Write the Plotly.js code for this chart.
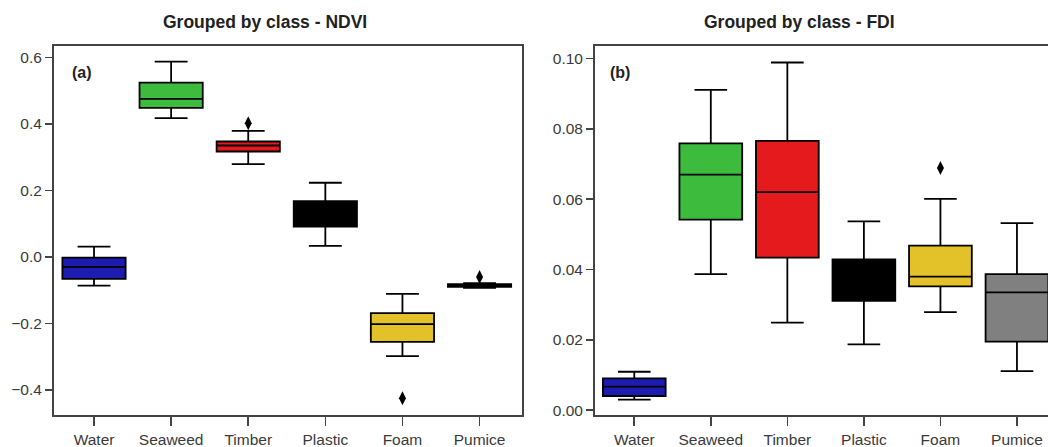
<!DOCTYPE html>
<html>
<head>
<meta charset="utf-8">
<script src="https://cdn.plot.ly/plotly-3.0.1.min.js"></script>
<style>
html, body { margin:0; padding:0; overflow:hidden; background:#fff; }
#chart { width:1060px; height:447px; }
</style>
</head>
<body>
<div id="chart"></div>
<script>
// ---- data ----
const classes = ['Water', 'Seaweed', 'Timber', 'Plastic', 'Foam', 'Pumice'];
const classColors = ['#1c1cb0', '#3dbb3d', '#e41a1c', '#000000', '#e3c229', '#808080'];

// NDVI (panel a)
const ndviLower  = [-0.086, 0.417, 0.279, 0.033, -0.298, -0.093];
const ndviQ1     = [-0.066, 0.448, 0.317, 0.091, -0.255, -0.090];
const ndviMedian = [-0.030, 0.475, 0.335, 0.130, -0.202, -0.086];
const ndviQ3     = [-0.002, 0.524, 0.347, 0.168, -0.169, -0.082];
const ndviUpper  = [0.031, 0.587, 0.379, 0.223, -0.111, -0.079];
const ndviOutlierClass = ['Timber', 'Foam', 'Pumice'];
const ndviOutlierValue = [0.402, -0.425, -0.060];

// FDI (panel b)
const fdiLower  = [0.0030, 0.0387, 0.0249, 0.0187, 0.0279, 0.0111];
const fdiQ1     = [0.0040, 0.0542, 0.0434, 0.0311, 0.0352, 0.0195];
const fdiMedian = [0.0067, 0.0670, 0.0620, 0.0370, 0.0380, 0.0335];
const fdiQ3     = [0.0090, 0.0759, 0.0766, 0.0429, 0.0468, 0.0387];
const fdiUpper  = [0.0109, 0.0911, 0.0989, 0.0537, 0.0601, 0.0532];
const fdiOutlierClass = ['Foam'];
const fdiOutlierValue = [0.0689];

const ndviTicks = [-0.4, -0.2, 0.0, 0.2, 0.4, 0.6];
const fdiTicks = [0.00, 0.02, 0.04, 0.06, 0.08, 0.10];

// ---- traces ----
const traces = [];
function addBoxes(lower, q1, med, q3, upper, xa, ya) {
  classes.forEach((c, i) => {
    traces.push({
      type: 'box', x: [c], q1: [q1[i]], median: [med[i]], q3: [q3[i]],
      lowerfence: [lower[i]], upperfence: [upper[i]],
      xaxis: xa, yaxis: ya, width: 0.82, whiskerwidth: 0.52,
      fillcolor: classColors[i], line: { color: '#000', width: 1.8 },
      boxpoints: false, showlegend: false, hoverinfo: 'skip'
    });
  });
}
addBoxes(ndviLower, ndviQ1, ndviMedian, ndviQ3, ndviUpper, 'x', 'y');
addBoxes(fdiLower, fdiQ1, fdiMedian, fdiQ3, fdiUpper, 'x2', 'y2');

traces.push({
  type: 'scatter', mode: 'markers', x: ndviOutlierClass, y: ndviOutlierValue,
  xaxis: 'x', yaxis: 'y', marker: { symbol: 'diamond-tall', size: 10, color: '#000' },
  showlegend: false, hoverinfo: 'skip'
});
traces.push({
  type: 'scatter', mode: 'markers', x: fdiOutlierClass, y: fdiOutlierValue,
  xaxis: 'x2', yaxis: 'y2', marker: { symbol: 'diamond-tall', size: 10, color: '#000' },
  showlegend: false, hoverinfo: 'skip'
});

// ---- layout ----
const axisFont = { family: 'Liberation Sans, Arial, sans-serif', size: 15.5, color: '#3a3a3a' };
const frame = { showline: true, mirror: true, linecolor: '#444', linewidth: 2,
  showgrid: false, zeroline: false, ticks: 'outside', tickcolor: '#444',
  tickwidth: 1.6, tickfont: axisFont, fixedrange: true };

const layout = {
  width: 1060, height: 447,
  margin: { l: 54, r: 4, t: 46, b: 32 },
  paper_bgcolor: '#fff', plot_bgcolor: '#fff',
  showlegend: false,
  font: { family: 'Liberation Sans, Arial, sans-serif' },
  xaxis: Object.assign({}, frame, { domain: [0, 0.4668], type: 'category',
    categoryorder: 'array', categoryarray: classes, range: [-0.519, 5.547], ticklen: 9 }),
  yaxis: Object.assign({}, frame, { anchor: 'x', range: [-0.475, 0.634],
    tickvals: ndviTicks, tickformat: '.1f', ticklen: 7 }),
  xaxis2: Object.assign({}, frame, { domain: [0.540, 1], anchor: 'y2', type: 'category',
    categoryorder: 'array', categoryarray: classes, range: [-0.512, 5.51], ticklen: 9 }),
  yaxis2: Object.assign({}, frame, { anchor: 'x2', range: [-0.0014, 0.1036],
    tickvals: fdiTicks, tickformat: '.2f', ticklen: 7 }),
  annotations: [
    { text: '<b>Grouped by class - NDVI</b>', xref: 'paper', yref: 'paper',
      x: 0.2106, y: 1.066, xanchor: 'center', yanchor: 'middle', showarrow: false,
      font: { family: 'Liberation Sans, Arial, sans-serif', size: 17.5, color: '#222' } },
    { text: '<b>Grouped by class - FDI</b>', xref: 'paper', yref: 'paper',
      x: 0.7445, y: 1.066, xanchor: 'center', yanchor: 'middle', showarrow: false,
      font: { family: 'Liberation Sans, Arial, sans-serif', size: 17.5, color: '#222' } },
    { text: '<b>(a)</b>', xref: 'paper', yref: 'paper', x: 0.016, y: 0.9295,
      xanchor: 'left', yanchor: 'middle', showarrow: false,
      font: { family: 'Liberation Sans, Arial, sans-serif', size: 16, color: '#222' } },
    { text: '<b>(b)</b>', xref: 'paper', yref: 'paper', x: 0.553, y: 0.9295,
      xanchor: 'left', yanchor: 'middle', showarrow: false,
      font: { family: 'Liberation Sans, Arial, sans-serif', size: 16, color: '#222' } }
  ]
};

Plotly.newPlot('chart', traces, layout, { displayModeBar: false, staticPlot: true });
</script>
</body>
</html>
